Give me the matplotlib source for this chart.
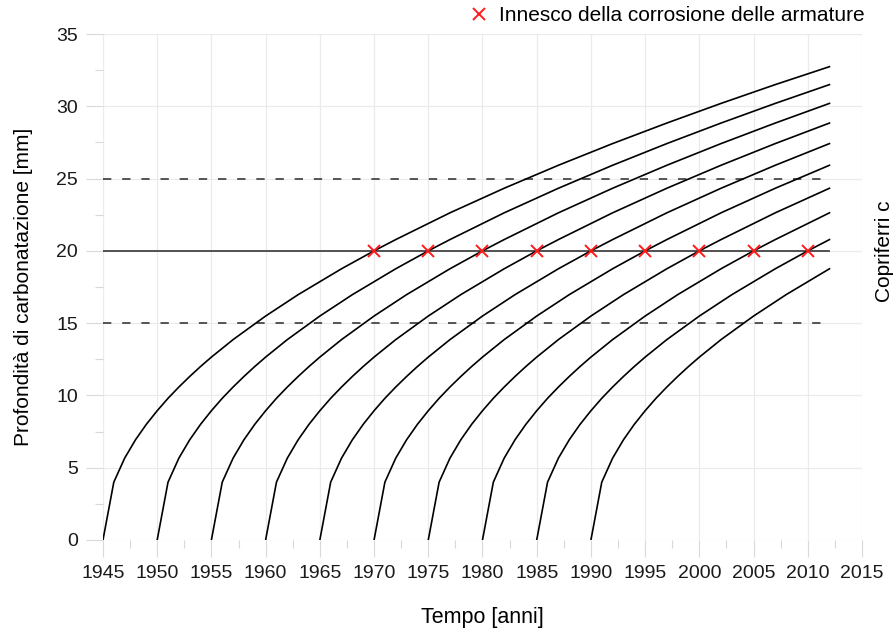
import matplotlib
matplotlib.use('Agg')
import matplotlib.pyplot as plt
import numpy as np

plt.rcParams['font.family'] = ['Liberation Sans', 'DejaVu Sans']

# year in which each structure was built (start of carbonation)
start_years = [1945, 1950, 1955, 1960, 1965, 1970, 1975, 1980, 1985, 1990]
end_year = 2012

ages = [0, 1, 2, 3, 4, 5, 6, 7, 8, 9, 10, 12, 15, 18, 22, 25, 27, 32, 37, 42, 47, 52, 57, 62, 67]
depths = [0, 4.0, 5.66, 6.93, 8.0, 8.94, 9.8, 10.58, 11.31, 12.0, 12.65, 13.86, 15.49, 16.97,
          18.76, 20.0, 20.78, 22.63, 24.33, 25.92, 27.42, 28.84, 30.2, 31.5, 32.74]

# concrete cover
cover = 20
cover_min = 15
cover_max = 25

# corrosion onset (cover reached)
onset_years = [1970, 1975, 1980, 1985, 1990, 1995, 2000, 2005, 2010]
onset_depth = [20, 20, 20, 20, 20, 20, 20, 20, 20]

x_ticks = [1945, 1950, 1955, 1960, 1965, 1970, 1975, 1980, 1985, 1990, 1995, 2000, 2005, 2010, 2015]
y_ticks = [0, 5, 10, 15, 20, 25, 30, 35]

fig = plt.figure(figsize=(8.93, 6.32), dpi=100)
ax = fig.add_axes([0.1153, 0.1456, 0.85, 0.8006])

ages_arr = np.array(ages)
depth_arr = np.array(depths)
for s in start_years:
    keep = ages_arr <= end_year - s
    ax.plot(s + ages_arr[keep], depth_arr[keep], color='black', lw=1.2, zorder=3)

ax.plot([1945, end_year], [cover_max, cover_max], color='#3a3a3a', lw=1.2,
        dashes=(5, 6.5), zorder=2)
ax.plot([1945, end_year], [cover_min, cover_min], color='#3a3a3a', lw=1.2,
        dashes=(5, 6.5), zorder=2)
ax.plot([1945, end_year], [cover, cover], color='#444444', lw=1.3, zorder=2)

ax.plot(onset_years, onset_depth, linestyle='none', marker='x', color='#ff1a1a',
        markersize=9, mew=1.4, zorder=4, label='Innesco della corrosione delle armature')

ax.set_xlim(1945, 2015)
ax.set_ylim(0, 35)
ax.set_xticks(x_ticks)
ax.set_yticks(y_ticks)
ax.set_xticks(np.arange(1947.5, 2015, 5), minor=True)
ax.set_yticks(np.arange(2.5, 35, 5), minor=True)

for sp in ax.spines.values():
    sp.set_visible(False)
ax.grid(True, which='major', color='#ebebeb', lw=0.9, zorder=0)
ax.set_axisbelow(True)
ax.tick_params(which='major', length=12, width=0.8, color='#d9d9d9',
               labelsize=14, labelcolor='#1a1a1a', pad=6)
ax.tick_params(which='minor', length=6, width=0.8, color='#d9d9d9')

ax.set_xlabel('Tempo [anni]', fontsize=15.5, labelpad=18)
ax.set_ylabel('Profondità di carbonatazione [mm]', fontsize=15, labelpad=17)

ax.text(1.03, cover, 'Copriferri c', transform=ax.get_yaxis_transform(),
        rotation=90, ha='center', va='center', fontsize=15)

ax.legend(loc='lower right', bbox_to_anchor=(1.004, 1.018), frameon=False,
          borderaxespad=0, borderpad=0, handlelength=1.0, handletextpad=0.5,
          fontsize=15)

fig.savefig('out.png', dpi=100)
